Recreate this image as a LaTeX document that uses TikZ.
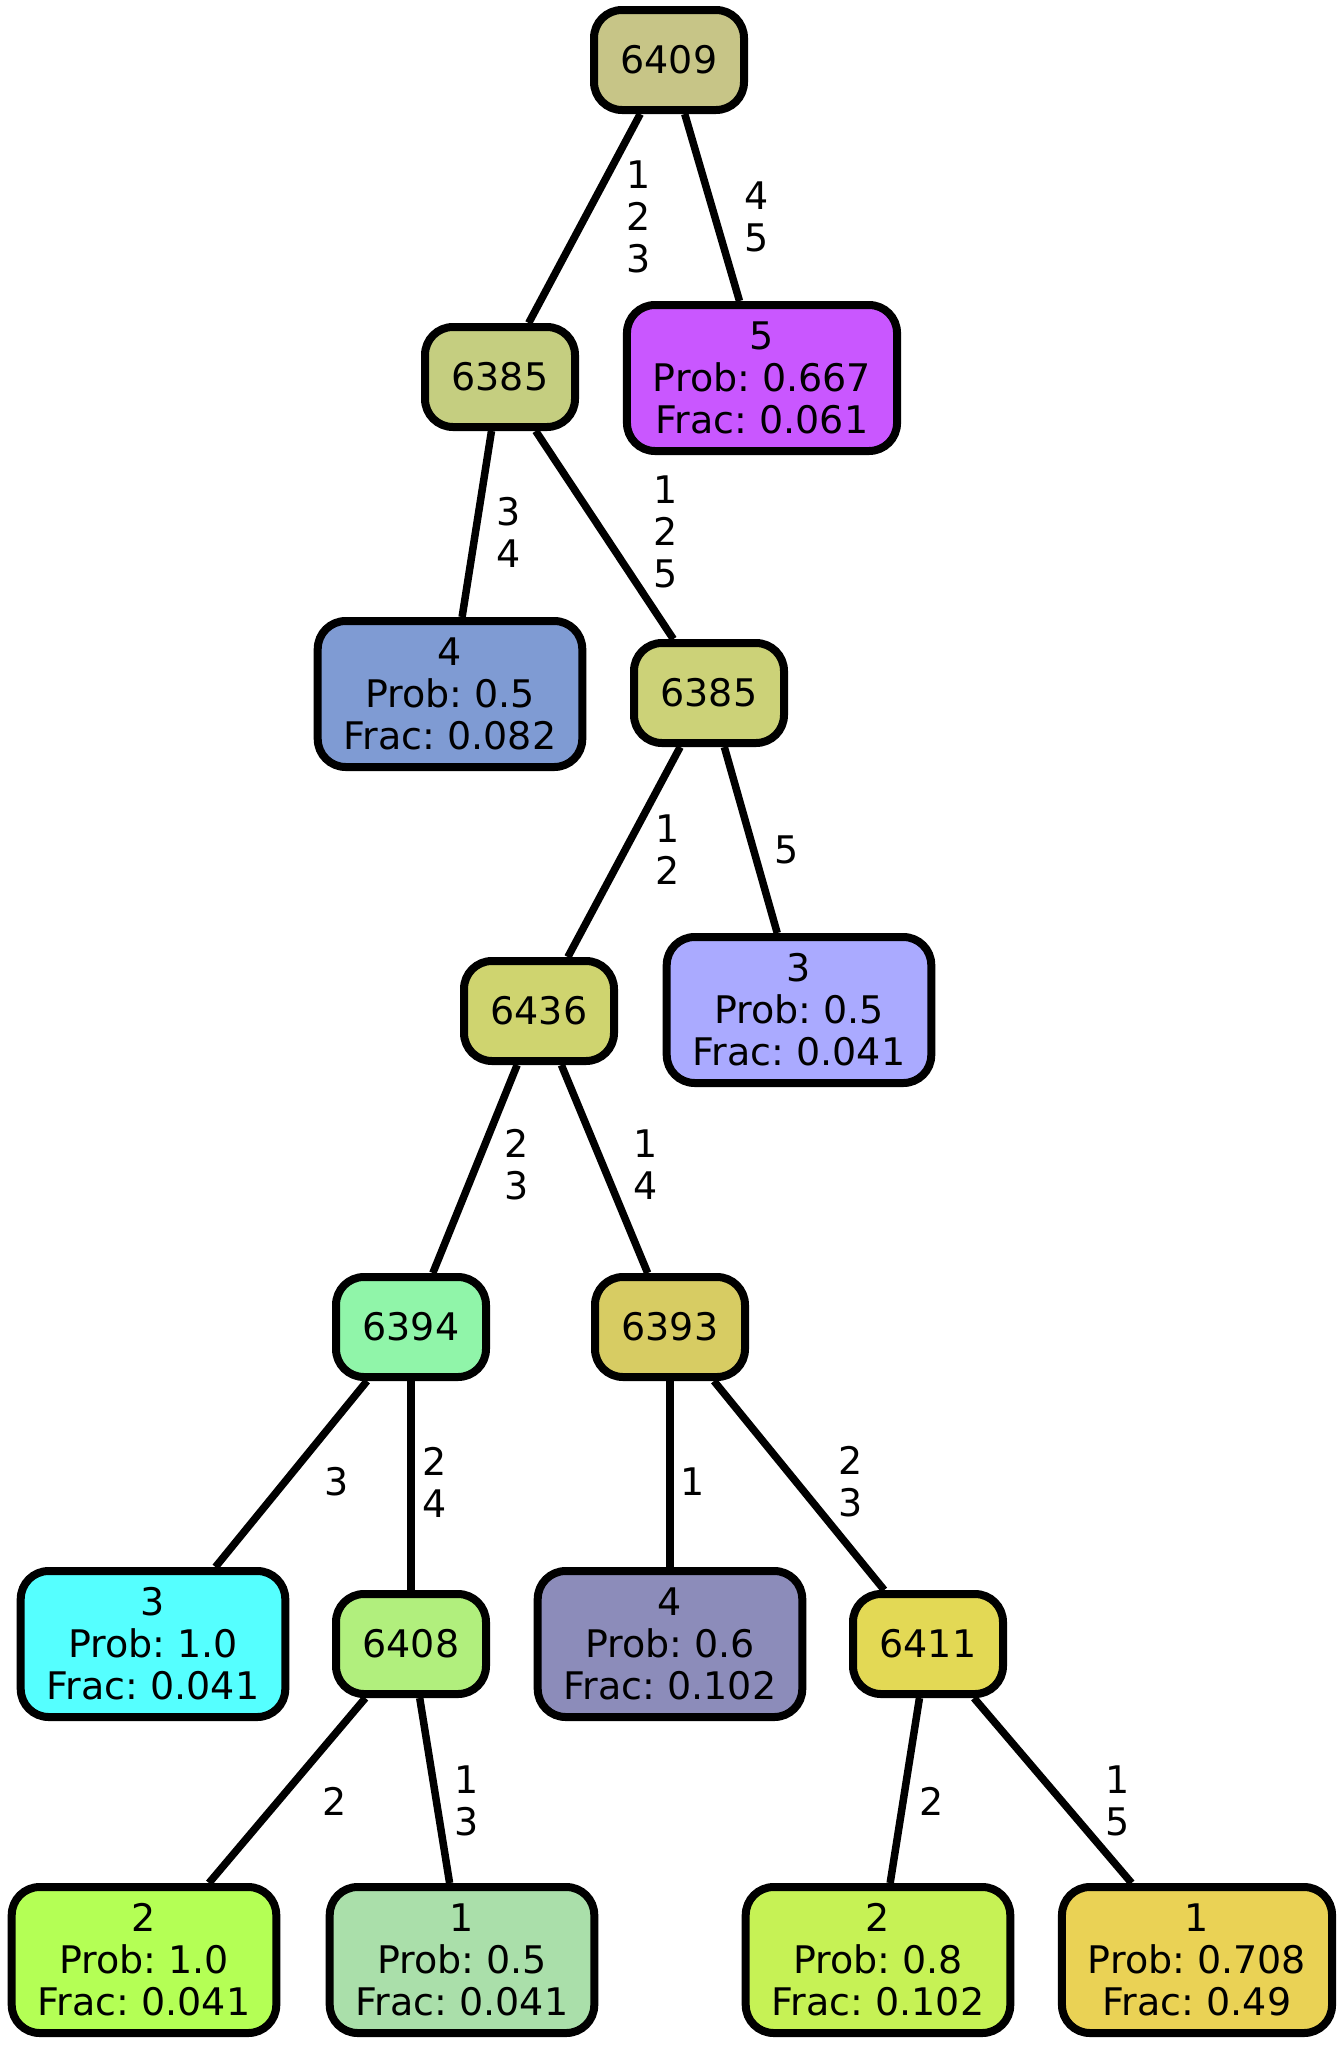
\documentclass[tikz,border=0pt]{standalone}
\usepackage{fontspec}
\setmainfont{DejaVu Sans}
\frenchspacing
\definecolor{c6409}{HTML}{C7C587}
\definecolor{c6385a}{HTML}{C5CE80}
\definecolor{cL5}{HTML}{C957FF}
\definecolor{cL4a}{HTML}{7F9BD3}
\definecolor{c6385b}{HTML}{CCD278}
\definecolor{c6436}{HTML}{CFD46F}
\definecolor{cL3a}{HTML}{AAAAFF}
\definecolor{c6394}{HTML}{90F5A9}
\definecolor{c6393}{HTML}{D7CC63}
\definecolor{cL3b}{HTML}{55FFFF}
\definecolor{c6408}{HTML}{B1EF7D}
\definecolor{cL4b}{HTML}{8C8CBA}
\definecolor{c6411}{HTML}{E3D955}
\definecolor{cL2a}{HTML}{B4FF55}
\definecolor{cL1a}{HTML}{AADFAA}
\definecolor{cL2b}{HTML}{C6F255}
\definecolor{cL1b}{HTML}{EAD255}
\begin{document}
\begin{tikzpicture}[x=1pt,y=-1pt,
  base/.style={draw=black, line width=8pt, rounded corners=28pt, font=\fontsize{38}{42}\selectfont\frenchspacing, align=center, inner ysep=0pt},
  inode/.style={base, minimum width=150pt, minimum height=100pt, inner xsep=0pt},
  leaf/.style={base, minimum height=146pt, inner xsep=26pt},
  edge/.style={line width=7.5pt},
  elab/.style={font=\fontsize{38}{42}\selectfont, align=center, inner sep=0pt}]
\useasboundingbox (0,0) rectangle (1344,2046);
% internal nodes
\node[inode, fill=c6409]  (n6409)  at (669,60)   {6409};
\node[inode, fill=c6385a] (n6385a) at (500,377)  {6385};
\node[inode, fill=c6385b] (n6385b) at (709,693)  {6385};
\node[inode, fill=c6436]  (n6436)  at (539,1011) {6436};
\node[inode, fill=c6394]  (n6394)  at (411,1327) {6394};
\node[inode, fill=c6393]  (n6393)  at (670,1327) {6393};
\node[inode, fill=c6408]  (n6408)  at (411,1644) {6408};
\node[inode, fill=c6411]  (n6411)  at (928,1644) {6411};
% leaves
\node[leaf, fill=cL5]  (l5)   at (762,378)  {5\\Prob: 0.667\\Frac: 0.061};
\node[leaf, fill=cL4a] (l4a)  at (450,694)  {4\\Prob: 0.5\\Frac: 0.082};
\node[leaf, fill=cL3a] (l3a)  at (799,1010) {3\\Prob: 0.5\\Frac: 0.041};
\node[leaf, fill=cL3b] (l3b)  at (153,1644) {3\\Prob: 1.0\\Frac: 0.041};
\node[leaf, fill=cL4b] (l4b)  at (670,1644) {4\\Prob: 0.6\\Frac: 0.102};
\node[leaf, fill=cL2a] (l2a)  at (144,1960) {2\\Prob: 1.0\\Frac: 0.041};
\node[leaf, fill=cL1a] (l1a)  at (462,1960) {1\\Prob: 0.5\\Frac: 0.041};
\node[leaf, fill=cL2b] (l2b)  at (878,1960) {2\\Prob: 0.8\\Frac: 0.102};
\node[leaf, fill=cL1b] (l1b)  at (1197,1960) {1\\Prob: 0.708\\Frac: 0.49};
% edges
\draw[edge] (n6409) -- (n6385a);
\draw[edge] (n6409) -- (l5);
\draw[edge] (n6385a) -- (l4a);
\draw[edge] (n6385a) -- (n6385b);
\draw[edge] (n6385b) -- (n6436);
\draw[edge] (n6385b) -- (l3a);
\draw[edge] (n6436) -- (n6394);
\draw[edge] (n6436) -- (n6393);
\draw[edge] (n6394) -- (l3b);
\draw[edge] (n6394) -- (n6408);
\draw[edge] (n6393) -- (l4b);
\draw[edge] (n6393) -- (n6411);
\draw[edge] (n6408) -- (l2a);
\draw[edge] (n6408) -- (l1a);
\draw[edge] (n6411) -- (l2b);
\draw[edge] (n6411) -- (l1b);
% edge labels
\node[elab] (e1) at (639,217)  {1\\2\\3};
\node[elab] (e2) at (757,217)  {4\\5};
\node[elab] (e3) at (509,532)  {3\\4};
\node[elab] (e4) at (666,532)  {1\\2\\5};
\node[elab] (e5) at (668,850)  {1\\2};
\node[elab] (e6) at (787,850)  {5};
\node[elab] (e7) at (517,1165) {2\\3};
\node[elab] (e8) at (646,1165) {1\\4};
\node[elab] (e9) at (337,1482) {3};
\node[elab] (e10) at (435,1482) {2\\4};
\node[elab] (e11) at (693,1482) {1};
\node[elab] (e12) at (851,1482) {2\\3};
\node[elab] (e13) at (335,1801) {2};
\node[elab] (e14) at (467,1801) {1\\3};
\node[elab] (e15) at (932,1801) {2};
\node[elab] (e16) at (1118,1801) {1\\5};
\end{tikzpicture}
\end{document}
